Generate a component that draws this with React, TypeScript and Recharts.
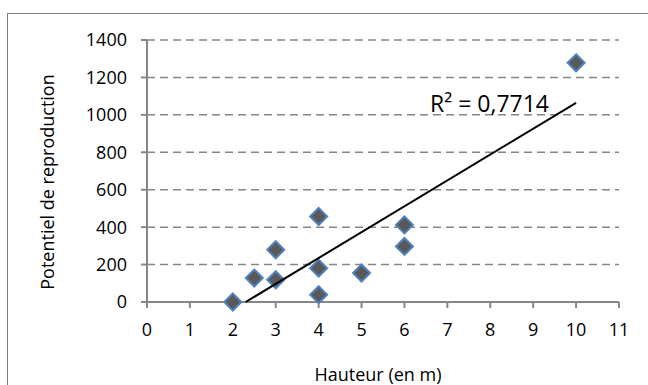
import React from 'react';
import { ScatterChart, Scatter, XAxis, YAxis, CartesianGrid, Customized, Label } from 'recharts';

const heights = [2, 2.5, 3, 3, 4, 4, 4, 5, 6, 6, 10];
const potentials = [0, 128, 279, 119, 457, 181, 39, 155, 412, 297, 1278];
const xTicks = [0, 1, 2, 3, 4, 5, 6, 7, 8, 9, 10, 11];
const yTicks = [0, 200, 400, 600, 800, 1000, 1200, 1400];
const r2Text = 'R² = 0,7714';
const xTitle = 'Hauteur (en m)';
const yTitle = 'Potentiel de reproduction';

const points = heights.map((x, i) => ({ x, y: potentials[i] }));

// linear least-squares trendline
const n = heights.length;
const mx = heights.reduce((a, b) => a + b, 0) / n;
const my = potentials.reduce((a, b) => a + b, 0) / n;
let sxy = 0;
let sxx = 0;
heights.forEach((x, i) => {
  sxy += (x - mx) * (potentials[i] - my);
  sxx += (x - mx) * (x - mx);
});
const slope = sxy / sxx;
const intercept = my - slope * mx;
const xMax = Math.max(...heights);
const xStart = Math.max(Math.min(...heights), -intercept / slope);
const trend = [
  { x: xStart, y: intercept + slope * xStart },
  { x: xMax, y: intercept + slope * xMax },
];

const FONT = '"Open Sans", sans-serif';
const GRAY = '#868686';

const Diamond = (props: any) => {
  const { cx, cy } = props;
  const r = 8.5;
  return (
    <polygon
      points={`${cx},${cy - r} ${cx + r},${cy} ${cx},${cy + r} ${cx - r},${cy}`}
      fill="#595959"
      stroke="#4f81bd"
      strokeWidth={2}
    />
  );
};

const NoShape = () => <g />;

const YTitle = (props: any) => {
  const vb = props.viewBox;
  const cx = vb.x + 27;
  const cy = vb.y + vb.height / 2 + 11;
  return (
    <text
      x={cx}
      y={cy}
      transform={`rotate(-90, ${cx}, ${cy})`}
      textAnchor="middle"
      dominantBaseline="central"
      fontSize={18}
      fontFamily={FONT}
      fill="#000"
    >
      {yTitle}
    </text>
  );
};

const XTitle = (props: any) => {
  const vb = props.viewBox;
  return (
    <text
      x={vb.x + vb.width / 2 - 5}
      y={vb.y + 79}
      textAnchor="middle"
      fontSize={18}
      fontFamily={FONT}
      fill="#000"
    >
      {xTitle}
    </text>
  );
};

const R2 = () => (
  <text x={430} y={112} fontSize={23} fontFamily={FONT} fill="#000">
    {r2Text}
  </text>
);

export default function App() {
  return (
    <div
      style={{
        position: 'absolute',
        left: 0,
        top: 0,
        width: 648,
        height: 385,
        overflow: 'hidden',
        background: '#fff',
        fontFamily: FONT,
      }}
    >
      <div
        style={{
          position: 'absolute',
          left: 7,
          top: 13,
          width: 700,
          height: 420,
          border: '1px solid #7f7f7f',
          boxSizing: 'border-box',
        }}
      />
      <div style={{ position: 'absolute', left: 0, top: 0 }}>
        <ScatterChart
          width={648}
          height={385}
          margin={{ top: 40, right: 29, bottom: 53, left: 20 }}
        >
          <CartesianGrid
            vertical={false}
            stroke={GRAY}
            strokeWidth={1.5}
            strokeDasharray="8 5"
          />
          <XAxis
            type="number"
            dataKey="x"
            domain={[0, 11]}
            ticks={xTicks}
            interval={0}
            height={30}
            tickSize={6}
            tickMargin={15}
            axisLine={{ stroke: GRAY, strokeWidth: 2 }}
            tickLine={{ stroke: GRAY, strokeWidth: 2 }}
            tick={{ fill: '#000', fontSize: 18, fontFamily: FONT }}
          >
            <Label content={XTitle} />
          </XAxis>
          <YAxis
            type="number"
            dataKey="y"
            domain={[0, 1400]}
            ticks={yTicks}
            interval={0}
            width={127}
            tickSize={6}
            tickMargin={14}
            axisLine={{ stroke: GRAY, strokeWidth: 2 }}
            tickLine={{ stroke: GRAY, strokeWidth: 2 }}
            tick={{ fill: '#000', fontSize: 18, fontFamily: FONT }}
          >
            <Label content={YTitle} />
          </YAxis>
          <Scatter data={points} shape={Diamond} isAnimationActive={false} />
          <Scatter
            data={trend}
            shape={NoShape}
            line={{ stroke: '#000', strokeWidth: 2 }}
            isAnimationActive={false}
          />
          <Customized component={R2} />
        </ScatterChart>
      </div>
    </div>
  );
}
